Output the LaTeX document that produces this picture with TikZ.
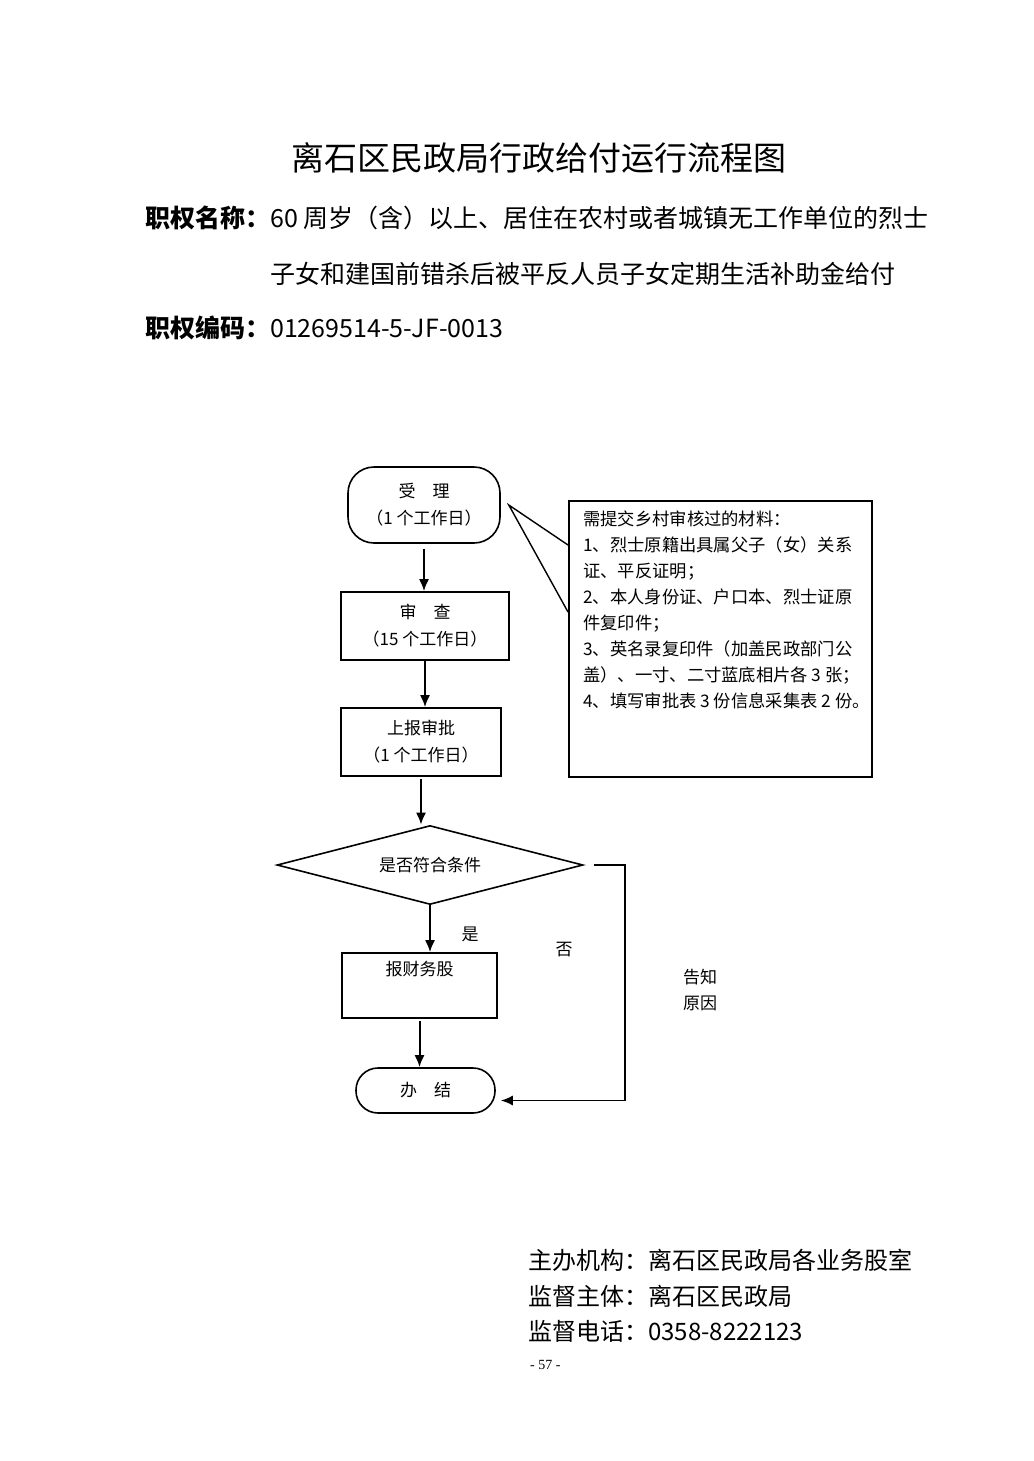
\documentclass[tikz,border=0pt]{standalone}
\usepackage{fontspec}
\setmainfont{Noto Sans CJK SC}
\newfontfamily\serifnum{Liberation Serif}
\usetikzlibrary{shapes.geometric}
\usetikzlibrary{calc}
\usetikzlibrary{arrows.meta}

\tikzset{
    titletext/.style={inner sep=0pt, font=\fontsize{33}{40}\selectfont},
    headtext/.style={inner sep=0pt, anchor=west, font=\fontsize{25}{30}\selectfont},
    foottext/.style={inner sep=0pt, anchor=west, font=\fontsize{24}{30}\selectfont},
    boxtext/.style={font=\fontsize{17}{27}\selectfont, align=center},
    stepbox/.style={boxtext, draw, line width=1.6pt, inner sep=0pt},
    roundbox/.style={stepbox, rounded corners=26pt},
    flowarrow/.style={-{Latex[length=12pt, width=10pt]}, line width=2pt},
}

\begin{document}
\begin{tikzpicture}[x=1pt, y=-1pt]

\fill [white] (0,0) rectangle (1033,1461);
\useasboundingbox (0,0) rectangle (1033,1461);

% Heading
\node [titletext] (title) at (539,158) {离石区民政局行政给付运行流程图};
\node [headtext] (name1) at (145,218) {\textbf{职权名称：}60 周岁（含）以上、居住在农村或者城镇无工作单位的烈士};
\node [headtext] (name2) at (270,274) {子女和建国前错杀后被平反人员子女定期生活补助金给付};
\node [headtext] (code) at (145,328) {\textbf{职权编码：}01269514-5-JF-0013};

% Flow boxes
\node [roundbox, minimum width=152pt, minimum height=76pt] (accept) at (424,505) {受　理\\（1 个工作日）};
\node [stepbox, minimum width=168pt, minimum height=68pt] (review) at (425,626) {审　查\\（15 个工作日）};
\node [stepbox, minimum width=160pt, minimum height=68pt] (report) at (421,742) {上报审批\\（1 个工作日）};
\node [stepbox, shape=diamond, aspect=3.9, minimum width=306pt, minimum height=79pt] (check) at (430,865) {是否符合条件};
\node [stepbox, minimum width=155pt, minimum height=65pt] (finance) at (419.5,985.5) {报财务股\\\strut};
\node [roundbox, rounded corners=22pt, minimum width=139pt, minimum height=45pt] (finish) at (425.5,1090.5) {办　结};

% Materials callout
\node [draw, line width=1.6pt, minimum width=303pt, minimum height=276pt, anchor=north west] (callout) at (568,500) {};
\node [boxtext, align=left, anchor=north west, inner sep=0pt, font=\fontsize{17.3}{26}\selectfont] (materials) at ($(callout.north west)+(15,11)$)
    {需提交乡村审核过的材料：\\
     1、烈士原籍出具属父子（女）关系\\
     证、平反证明；\\
     2、本人身份证、户口本、烈士证原\\
     件复印件；\\
     3、英名录复印件（加盖民政部门公\\
     盖）、一寸、二寸蓝底相片各 3 张；\\
     4、填写审批表 3 份信息采集表 2 份。};
\draw [line width=1.4pt] ($(callout.north west)+(0,45)$) -- ($(accept.east)+(8,0)$) -- ($(callout.north west)+(0,112)$);

% Arrows
\draw [flowarrow, shorten <=5pt] (accept.south) -- (accept.south |- review.north);
\draw [flowarrow] (review.south) -- (review.south |- report.north);
\draw [flowarrow, shorten <=2pt] (report.south) -- (report.south |- check.north);
\draw [flowarrow] (check.south) -- (check.south |- finance.north);
\draw [flowarrow, shorten <=2pt] (finance.south) -- (finance.south |- finish.north);
\draw [flowarrow, line width=1.6pt] ($(check.east)+(10,0)$) -- ++(31,0) |- ($(finish.east)+(5,10)$);

% Branch labels
\node [boxtext] (yes) at (470,934) {是};
\node [boxtext] (no) at (564,950) {否};
\node [boxtext] (tell) at (700,977) {告知};
\node [boxtext] (reason) at (700,1003) {原因};

% Footer
\node [foottext] (organ) at (528,1260) {主办机构：离石区民政局各业务股室};
\node [foottext] (super) at (528,1296) {监督主体：离石区民政局};
\node [foottext] (phone) at (528,1331) {监督电话：0358-8222123};
\node [inner sep=0pt, anchor=west, font=\serifnum\fontsize{14}{16}\selectfont] (page) at (530,1365) {- 57 -};

\end{tikzpicture}
\end{document}
